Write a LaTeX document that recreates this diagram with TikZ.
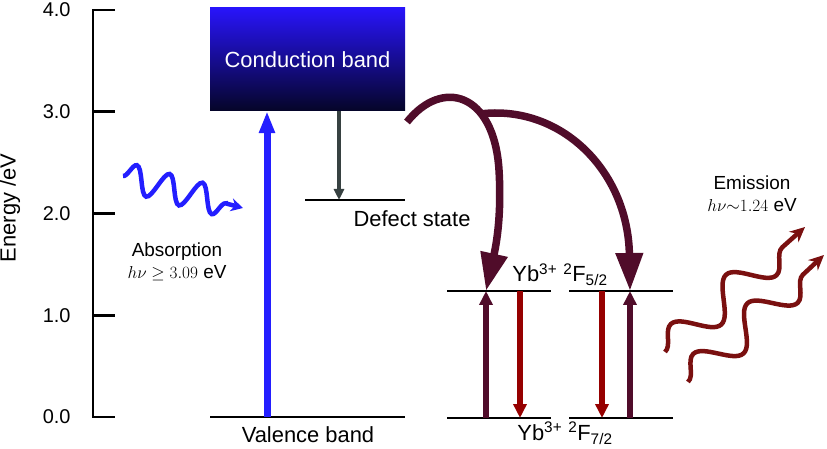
\documentclass[tikz,border=0pt]{standalone}
\usepackage{fontspec}
\setmainfont{Liberation Sans}
\usetikzlibrary{arrows.meta,decorations.pathmorphing}

\definecolor{cbtop}{RGB}{40,20,250}
\definecolor{cbmid}{RGB}{15,0,255}
\definecolor{cbbot}{RGB}{5,5,40}
\definecolor{absblue}{RGB}{35,30,255}
\definecolor{relaxgray}{RGB}{55,65,65}
\definecolor{ybdark}{RGB}{80,12,42}
\definecolor{ybred}{RGB}{150,0,0}
\definecolor{emitred}{RGB}{122,16,16}

\begin{document}
\begin{tikzpicture}[
    x=1bp, y=-1bp,
    every node/.style={font=\fontsize{22}{26}\selectfont},
    small/.style={font=\fontsize{19}{22}\selectfont},
    level/.style={line width=2.7bp},
    cbbox/.style={minimum width=195bp, minimum height=103bp, inner sep=0pt,
      top color=cbtop, middle color=cbmid, bottom color=cbbot, text=white},
    pump/.style={line width=7bp, absblue, -{Triangle[length=22bp,width=15bp]}},
    relax/.style={line width=3.5bp, relaxgray, -{Triangle[length=11bp,width=10bp]}},
    transfer/.style={line width=7.5bp, ybdark, -{Triangle[length=38bp,width=26bp]}},
    ybup/.style={line width=6bp, ybdark, -{Triangle[length=14bp,width=13bp]}},
    ybdown/.style={line width=6bp, ybred, -{Triangle[length=14bp,width=13bp]}},
    photonin/.style={line width=4.5bp, absblue, -{Stealth[length=12bp,width=13bp]},
      decorate, decoration={snake, amplitude=14bp, segment length=34bp, post length=12bp}},
    photonout/.style={line width=4.5bp, emitred, -{Stealth[length=15bp,width=14bp]},
      decorate, decoration={snake, amplitude=17bp, segment length=74bp, post length=12bp}}
  ]
  \useasboundingbox (0,0) rectangle (827,449);

  % energy axis
  \draw[level] (115,10) -- (93,10) -- (93,417) -- (115,417);
  \foreach \e in {1,2,3}
    \draw[level] (93,417-101.75*\e) -- (115,417-101.75*\e);
  \foreach \e in {0,1,2,3,4}
    \node[anchor=east, font=\fontsize{20}{24}\selectfont] (tick\e) at (74,417-101.75*\e) {\e.0};
  \node[rotate=90] (ylabel) at (10,208) {Energy /eV};

  % host bands
  \node[cbbox] (cband) at (307.5,59.5) {Conduction band};
  \draw[level] (210,417) coordinate (vbL) -- (405,417) coordinate (vbR);
  \node[anchor=base] (vblabel) at (308,442) {Valence band};
  \draw[level] (305,200) coordinate (dsL) -- (405,200) coordinate (dsR);
  \node[anchor=base] (dslabel) at (412,227) {Defect state};

  \coordinate (pumpfoot) at (267,417);
  \draw[pump] (pumpfoot) -- (pumpfoot |- cband.south);
  \coordinate (relaxfoot) at (339,200);
  \draw[relax] (relaxfoot |- cband.south) -- (relaxfoot);

  % Yb3+ levels
  \draw[level] (447,291) -- (551,291);
  \draw[level] (569,291) -- (673,291);
  \draw[level] (447,418) -- (551,418);
  \draw[level] (569,418) -- (673,418);
  \node[anchor=base] (ybhigh) at (560,282) {Yb\textsuperscript{3+} \textsuperscript{2}F\textsubscript{5/2}};
  \node[anchor=base] (yblow) at (565,440) {Yb\textsuperscript{3+} \textsuperscript{2}F\textsubscript{7/2}};

  \coordinate (ybL) at (486,291);
  \coordinate (ybR) at (630,291);
  \draw[ybup] (486,418) -- (ybL);
  \draw[ybdown] (520,291) -- (520,418);
  \draw[ybdown] (602,291) -- (602,418);
  \draw[ybup] (630,418) -- (ybR);

  % energy transfer
  \coordinate (tstart) at (407,122);
  \coordinate (tsplit) at (480,114);
  \draw[transfer] (tstart) .. controls (442,78) and (494,92) .. (499,170)
    .. controls (502,220) and (495,250) .. (ybL);
  \draw[transfer] (tsplit) .. controls (560,104) and (628,170) .. (ybR);

  % photons
  \coordinate (absA) at (123,176);
  \coordinate (absB) at (243,208);
  \draw[photonin] (absA) -- (absB);
  \node[small, align=center] (abslabel) at (177,262) {Absorption\\$h\nu \geq 3.09$ eV};

  \coordinate (emA1) at (665,352);
  \coordinate (emB1) at (805,227);
  \coordinate (emA2) at (688,382);
  \coordinate (emB2) at (824,255);
  \draw[photonout] (emA1) -- (emB1);
  \draw[photonout] (emA2) -- (emB2);
  \node[small, align=center] (emlabel) at (752,194) {Emission\\$h\nu{\sim}1.24$ eV};
\end{tikzpicture}
\end{document}
